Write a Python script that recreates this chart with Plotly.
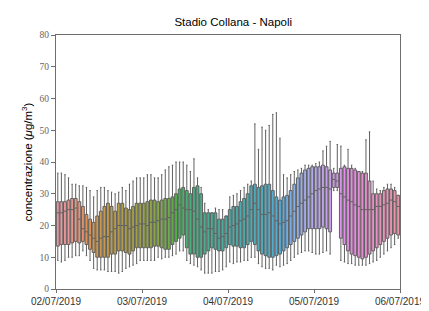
import math
import colorsys
import plotly.graph_objects as go

# ---------------- data (hourly box statistics, 02/07/2019 00h .. 05/07/2019 23h) -------------
q1 = [13.5, 14, 14, 14, 14.5, 15, 14.5, 15, 14, 12.5, 11.5, 10, 10, 10, 10, 11, 11, 12, 12, 11.5, 11, 12, 13, 13,
      13, 13, 13, 13.5, 13.5, 13, 12.5, 12.5, 14, 15, 16, 17, 13, 11, 11, 10, 10, 11, 12, 13, 12.5, 12, 12, 13,
      14, 13.5, 13.5, 13, 13, 14, 15, 14, 12, 11, 10.5, 10, 10, 10.5, 11, 12, 13, 14, 15, 16, 17, 18, 19, 19,
      19, 19, 19.5, 19, 18, 32, 32, 16, 14, 12, 11, 10.5, 10, 9.5, 10, 11, 12, 13, 14, 15, 16, 17, 17.5, 17]
med = [24, 24, 24.5, 25, 25, 25.5, 22, 19, 18, 17, 16, 15, 16, 16.5, 16.5, 18, 19, 20, 20, 20, 19, 19.5, 20, 20.5,
       20.5, 20, 21, 21, 21.5, 22, 22, 22.5, 24, 25, 26.5, 25.5, 25, 25, 24.5, 22, 19.5, 18, 19, 19, 17.5, 16, 16.5, 17.5,
       19.5, 20, 20.5, 21.5, 22, 23, 25, 27, 25, 23.5, 23.5, 24, 23, 21.5, 20.5, 21, 21.5, 23, 24.5, 26, 27, 28, 29, 30,
       31, 31.5, 32, 32, 31.5, 34.5, 34, 30, 29, 28, 27.5, 26.5, 26, 25, 25, 25, 25, 26, 26, 26.5, 27, 28, 27.5, 26]
q3 = [27.5, 27.5, 27.5, 28, 28.5, 28.5, 27.5, 26, 23.5, 22, 21, 23, 24.5, 26, 27, 26, 24.5, 27, 27, 25.5, 25, 26, 27, 27,
      27, 27.5, 28, 28, 27.5, 28, 28.5, 28.5, 29, 30, 31.5, 32, 31, 30, 32, 32.5, 30, 24, 24, 24, 24, 22, 22, 23,
      25, 26, 26, 27.5, 28.5, 30, 32.5, 33, 32, 32.5, 33, 33, 31, 29, 28, 29, 29.5, 31, 33, 35, 36.5, 37.5, 38, 38.5,
      38.5, 38.5, 39, 38.5, 37.5, 36.5, 36.5, 38, 38.5, 38, 38, 37.5, 37, 36.5, 36.5, 34, 30, 30, 30, 31, 31.5, 31.5, 31, 29.5]
lo = [9, 8.5, 9, 10, 10, 10.5, 10.5, 12, 10.5, 9, 6.5, 6, 6, 6, 5.5, 5.5, 5.5, 5, 5.5, 6.5, 7, 7.5, 8, 9,
      9, 9, 9, 9, 10, 9.5, 10, 10, 10.5, 11, 12, 12, 9, 8, 7.5, 7, 6, 5, 5, 5, 5.5, 5.5, 6, 7,
      8.5, 8, 8.5, 8.5, 9, 9, 10, 10, 8, 7, 6.5, 6.5, 6, 7.5, 7, 7.5, 8, 9, 10, 11, 11.5, 12, 12, 11.5,
      11, 11, 11.5, 12, 11, 31, 31, 9, 8.5, 8, 8, 7.5, 7.5, 7.5, 7.5, 8, 8.5, 9, 10, 11, 12, 13, 14, 16]
hi = [36.5, 36.5, 36, 35, 33, 33, 32.5, 32.5, 32, 31, 29, 31, 32, 32, 31, 30.5, 30, 30.5, 32, 31, 33, 34, 35, 35,
      35, 36, 36, 35, 35, 36, 37.5, 38.5, 39, 40, 40, 40, 39, 37, 41, 35, 32, 27, 25, 24, 25.5, 25, 25, 23,
      29, 29.5, 30, 31, 32, 33, 34, 52, 44, 51, 50, 51.5, 55, 55.5, 47.5, 36, 35, 36, 37, 37.5, 38, 39, 39, 39,
      39.5, 40, 43.5, 45, 46.5, 38, 45.5, 45, 39, 44, 39, 38, 36, 37, 47, 49.5, 34, 31.5, 31, 32, 33, 33, 32, 29.5]
day_labels = ["02/07/2019", "03/07/2019", "04/07/2019", "05/07/2019", "06/07/2019"]
title_text = "Stadio Collana - Napoli"
y_label = "concentrazione (<i>μ</i>g/m<sup>3</sup>)"

# ---------------- husl palette (seaborn-like) ----------------
M = [[3.240969941904521, -1.537383177570093, -0.498610760293],
     [-0.96924363628087, 1.87596750150772, 0.041555057407175],
     [0.055630079696993, -0.20397695888897, 1.056971514242878]]
KAPPA = 903.2962962
EPS = 0.0088564516
REF_U, REF_V = 0.19783000664283, 0.46831999493879


def _bounds(L):
    out = []
    sub1 = (L + 16) ** 3 / 1560896
    sub2 = sub1 if sub1 > EPS else L / KAPPA
    for m1, m2, m3 in M:
        for t in (0, 1):
            top1 = (284517 * m1 - 94839 * m3) * sub2
            top2 = (838422 * m3 + 769860 * m2 + 731718 * m1) * L * sub2 - 769860 * t * L
            bottom = (632260 * m3 - 126452 * m2) * sub2 + 126452 * t
            out.append((top1 / bottom, top2 / bottom))
    return out


def _max_chroma(L, H):
    hr = H / 360 * 2 * math.pi
    best = float("inf")
    for s, i in _bounds(L):
        length = i / (math.sin(hr) - s * math.cos(hr))
        if length >= 0:
            best = min(best, length)
    return best


def hsluv_to_rgb(H, S, L):
    C = _max_chroma(L, H) / 100 * S
    hr = math.radians(H)
    U, V = C * math.cos(hr), C * math.sin(hr)
    Y = L / KAPPA if L <= 8 else ((L + 16) / 116) ** 3
    vu = U / (13 * L) + REF_U
    vv = V / (13 * L) + REF_V
    X = 0 - (9 * Y * vu) / ((vu - 4) * vv - vu * vv)
    Z = (9 * Y - 15 * vv * Y - vv * X) / (3 * vv)
    rgb = []
    for row in M:
        c = row[0] * X + row[1] * Y + row[2] * Z
        c = 12.92 * c if c <= 0.0031308 else 1.055 * c ** (1 / 2.4) - 0.055
        rgb.append(min(1, max(0, c)))
    return rgb


n = len(med)
cols = []
for k in range(n):
    h = ((k / n) + 0.01) % 1 * 359
    r, g, b = hsluv_to_rgb(h, 0.9 * 99, 0.7 * 99)
    hh, ll, ss = colorsys.rgb_to_hls(r, g, b)
    r, g, b = colorsys.hls_to_rgb(hh, ll, ss * 0.75)
    cols.append((r, g, b))
gray = "rgb(96,96,96)"

fig = go.Figure()
for k in range(n):
    r, g, b = cols[k]
    fig.add_trace(go.Box(
        x=[k], q1=[q1[k]], median=[med[k]], q3=[q3[k]],
        lowerfence=[lo[k]], upperfence=[hi[k]],
        width=0.8, whiskerwidth=0.5,
        fillcolor="rgb(%d,%d,%d)" % (round(r * 255), round(g * 255), round(b * 255)),
        line=dict(color=gray, width=1),
        boxpoints=False, showlegend=False, hoverinfo="skip",
    ))

axis_col = "#6e6e6e"
fig.update_layout(
    width=429, height=311,
    margin=dict(l=48, r=27, t=27, b=20),
    paper_bgcolor="white", plot_bgcolor="white",
    boxmode="overlay",
    title=dict(text=title_text, x=0.525, xanchor="center", y=0.955, yanchor="middle",
               font=dict(family="Liberation Sans, Arial", size=11.5, color="black")),
    xaxis=dict(range=[-0.5, n - 0.5], tickvals=[-0.5 + 24 * d for d in range(5)], ticktext=day_labels,
               showgrid=False, zeroline=False, showline=True, mirror=True, linecolor=axis_col, linewidth=1,
               ticks="outside", ticklen=3, tickcolor=axis_col,
               tickfont=dict(family="Liberation Sans, Arial", size=10, color="#333")),
    yaxis=dict(range=[0, 80], tickvals=list(range(0, 81, 10)),
               showgrid=False, zeroline=False, showline=True, mirror=True, linecolor=axis_col, linewidth=1,
               ticks="outside", ticklen=4, tickcolor=axis_col,
               tickfont=dict(family="Liberation Serif, serif", size=9.5, color="#666"),
               title=dict(text=y_label, standoff=4,
                          font=dict(family="Liberation Sans, Arial", size=11.5, color="black"))),
)
fig.write_html("out.html")
